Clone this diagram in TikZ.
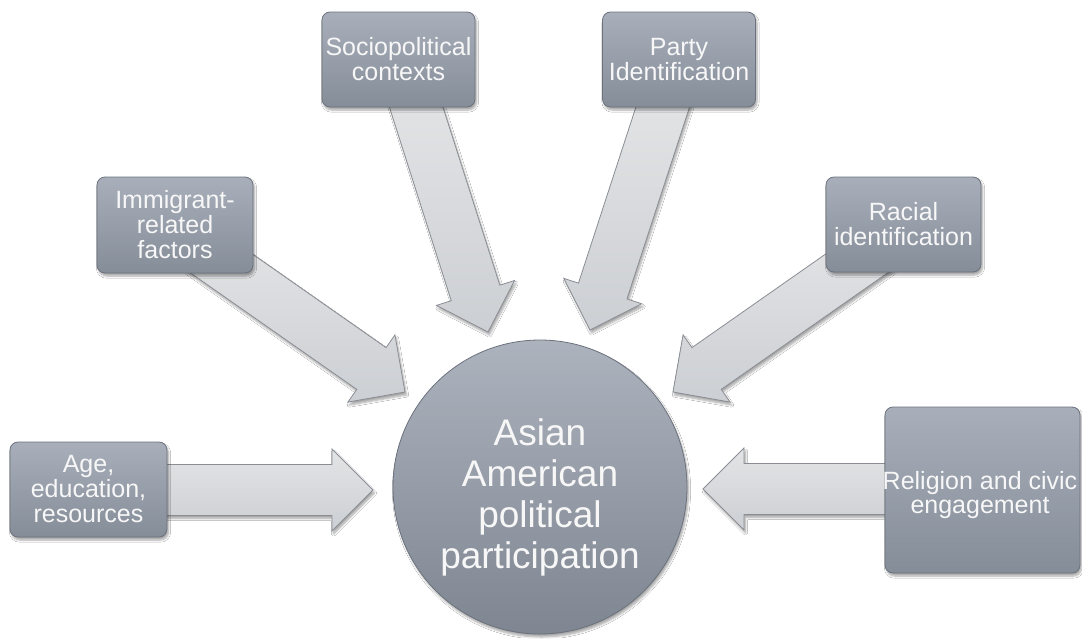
\documentclass[tikz,border=0pt]{standalone}
\usepackage{fontspec}
\setmainfont{Liberation Sans}
\usetikzlibrary{calc,shadows,shadows.blur}
\definecolor{boxtop}{HTML}{A8AFBA}
\definecolor{boxbot}{HTML}{858D99}
\definecolor{boxedge}{HTML}{6B727D}
\definecolor{arrtop}{HTML}{E3E4E6}
\definecolor{arrbot}{HTML}{CCCFD3}
\definecolor{arredge}{HTML}{8A8E94}
\definecolor{txt}{HTML}{F7F7F7}
\tikzset{
  softshadow/.style={blur shadow={shadow blur steps=6, shadow xshift=1.5pt, shadow yshift=-3pt, shadow opacity=35}},
  factor/.style={rectangle, draw=boxedge, line width=0.8pt, rounded corners=8pt,
    top color=boxtop, bottom color=boxbot, softshadow,
    text=txt, align=center, font=\fontsize{25}{25}\selectfont, inner sep=0pt},
  hub/.style={circle, draw=boxedge, line width=0.8pt, top color=boxtop!95, bottom color=boxbot!95!black,
    softshadow, minimum size=294pt, inner sep=0pt},
  hubtext/.style={text=txt, align=center, font=\fontsize{37}{41}\selectfont},
  barrow/.style={draw=arredge, line width=0.8pt, top color=arrtop, bottom color=arrbot, softshadow, line join=miter}
}
\newcommand\myblockarrow[2]{%
  \coordinate (hb-#2) at ($(#2)!41pt!(#1)$);
  \path[barrow] ($(#1)!25.5pt!90:(#2)$) -- ($(hb-#2)!25.5pt!90:(#2)$) -- ($(hb-#2)!41pt!90:(#2)$) -- (#2)
     -- ($(hb-#2)!41pt!-90:(#2)$) -- ($(hb-#2)!25.5pt!-90:(#2)$) -- ($(#1)!25.5pt!-90:(#2)$) -- cycle;}
\begin{document}
\begin{tikzpicture}[x=1pt,y=-1pt]
\fill[white] (0,0) rectangle (1082,638);
\useasboundingbox (0,0) rectangle (1082,638);
% arrow ends
\coordinate (ageB) at (140,490);   \coordinate (ageT) at (373,490);
\coordinate (relB) at (920,489);   \coordinate (relT) at (703,489);
\coordinate (immB) at (200,248.5); \coordinate (immT) at (405,392);
\coordinate (racB) at (878,248.5); \coordinate (racT) at (673,392);
\coordinate (socB) at (412,94);    \coordinate (socT) at (488,332);
\coordinate (parB) at (666,97);    \coordinate (parT) at (590,330);
\myblockarrow{ageB}{ageT}
\myblockarrow{relB}{relT}
\myblockarrow{immB}{immT}
\myblockarrow{racB}{racT}
\myblockarrow{socB}{socT}
\myblockarrow{parB}{parT}
% boxes
\node[factor, minimum width=153pt, minimum height=95pt] (soc) at (398.5,59.5) {Sociopolitical\\contexts};
\node[factor, minimum width=153pt, minimum height=95pt] (par) at (679,59.5) {Party\\Identification};
\node[factor, minimum width=156pt, minimum height=96pt] (imm) at (175,225) {Immigrant-\\related\\factors};
\node[factor, minimum width=155pt, minimum height=95pt] (rac) at (903.5,224.5) {Racial\\identification};
\node[factor, minimum width=157pt, minimum height=95pt] (age) at (88.5,489.5) {Age,\\education,\\resources};
\node[factor, minimum width=195pt, minimum height=166pt] (rel) at (982.5,490) {};
\node[text=txt, align=center, font=\fontsize{25}{24}\selectfont] (reltext) at (980,495) {Religion and civic\\engagement};
% hub
\node[hub] (hub) at (540,487) {};
\node[hubtext] (hubtext) at (540,497) {Asian\\American\\political\\participation};
\end{tikzpicture}
\end{document}
